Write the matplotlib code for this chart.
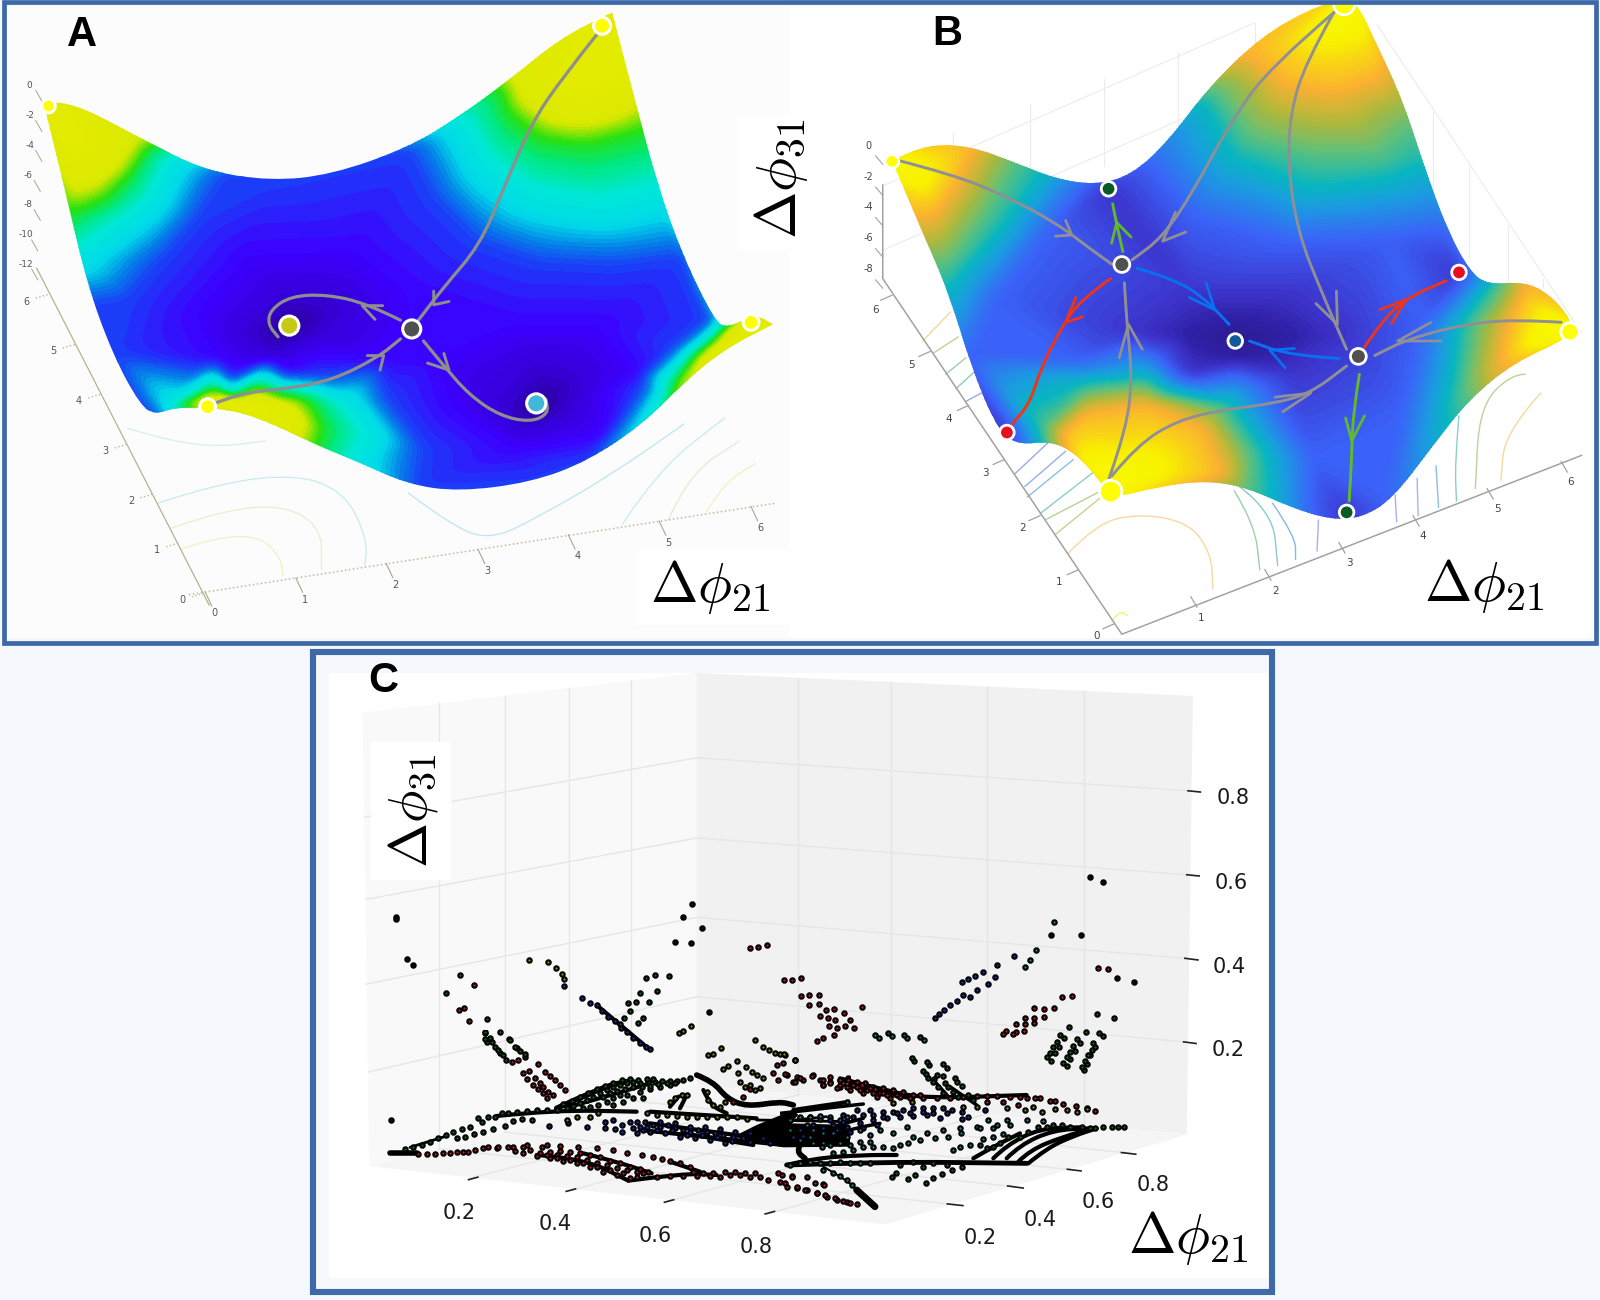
#!/usr/bin/env python3
# Three panels: two landscape surfaces (A, B) and a 3D-looking point cloud (C).
import numpy as np
import matplotlib
matplotlib.use('Agg')
import matplotlib.pyplot as plt
import matplotlib.tri as mtri
from matplotlib.colors import LinearSegmentedColormap
from matplotlib.patches import PathPatch, Polygon, Rectangle
from matplotlib.path import Path

plt.rcParams['font.family'] = ['DejaVu Sans']
plt.rcParams['mathtext.fontset'] = 'cm'

BLUE_EDGE = '#3e69a8'
PAGE = '#f5f8fd'

# ---------- panel A ----------
a_outline = [(85, 245), (85, 245), (150, 250), (280, 335), (400, 410), (530, 435), (650, 420), (800, 355), (900, 280),
             (1000, 190), (1100, 90), (1200, 30), (1200, 30), (1240, 220), (1290, 450), (1340, 620), (1400, 770),
             (1425, 790), (1480, 755), (1515, 780), (1515, 780), (1420, 840), (1340, 920), (1260, 1020), (1150, 1110),
             (1040, 1160), (900, 1182), (800, 1165), (700, 1110), (620, 1070), (500, 1000), (420, 980), (340, 980),
             (305, 997), (275, 975), (220, 850), (170, 680), (130, 470), (100, 320)]
a_levels = [
    (1.0, [(85, 245), (140, 330), (1180, 60), (1140, 200), (1210, 150), (410, 975), (480, 975), (540, 985), (1470, 775), (1515, 780), (1420, 830)]),
    (0.85, [(275, 335), (240, 400), (200, 440), (140, 470), (1000, 190), (1015, 240), (1070, 290), (1130, 305), (1200, 290),
            (1255, 255), (350, 975), (420, 945), (500, 940), (570, 965), (605, 1020), (590, 1060), (1420, 800), (1370, 860), (1335, 925)]),
    (0.72, [(290, 345), (250, 420), (200, 480), (140, 510), (985, 205), (1000, 270), (1060, 330), (1150, 345), (1260, 310),
            (600, 960), (630, 1030), (615, 1075), (1412, 795), (1360, 855), (1322, 930)]),
    (0.5, [(340, 380), (300, 480), (240, 540), (150, 620), (900, 290), (950, 400), (1050, 480), (1180, 505), (1300, 470),
           (340, 972), (440, 932), (560, 928), (680, 965), (730, 1040), (700, 1110), (1405, 790), (1350, 850), (1305, 940), (1265, 1020)]),
    (0.25, [(440, 420), (390, 520), (320, 620), (250, 720), (180, 730), (800, 360), (850, 480), (930, 580), (1050, 630),
            (1200, 640), (1340, 620), (280, 975), (450, 920), (620, 905), (760, 960), (830, 1080), (820, 1175), (1395, 770),
            (1320, 840), (1260, 930), (1150, 1110), (530, 435), (220, 850), (305, 997), (1040, 1160)]),
    (0.17, [(380, 750), (480, 610), (700, 600), (800, 700), (760, 860), (560, 895), (420, 860), (850, 860), (1000, 780),
            (1180, 780), (1250, 900), (1180, 1050), (1000, 1080), (880, 980), (807, 790)]),
    (0.08, [(490, 800), (560, 720), (650, 735), (620, 800), (530, 850), (990, 990), (1060, 890), (1130, 920), (1100, 1000), (1020, 1030)]),
    (0.0, [(565, 785), (1050, 970)]),
    # outside the surface, only there to close the triangulation
    (0.9, [(0, 0), (1568, 0), (1568, 780), (250, 1563)]),
    (0.25, [(0, 900), (1568, 1300), (900, 1563)]),
]

a_paths = [
    [(1175, 75), (1100, 190), (1040, 300), (985, 460), (940, 590), (870, 690), (820, 770)],
    [(785, 770), (720, 730), (640, 708), (570, 712), (530, 745), (525, 780), (545, 810)],
    [(410, 975), (470, 945), (560, 935), (650, 915), (740, 860), (785, 815)],
    [(830, 820), (870, 880), (920, 950), (980, 1000), (1040, 1015), (1075, 995), (1070, 960)],
]
a_barbs = [[(850, 733), (880, 725), (850, 700)], [(710, 735), (750, 735), (735, 768)],
           [(752, 855), (720, 855), (745, 890)], [(880, 890), (838, 873), (870, 850)]]
a_nodes_x = [95, 1180, 407, 1472, 807, 567, 1051]
a_nodes_y = [255, 62, 978, 775, 791, 783, 970]
a_nodes_c = ['#ffff00', '#ffff00', '#ffff00', '#ffff00', '#505050', '#c8c818', '#40b8d8']
a_nodes_s = [95, 150, 130, 130, 170, 190, 190]

a_z_labels = ['0', '-2', '-4', '-6', '-8', '-10', '-12']
a_z_x = [58, 58, 58, 55, 55, 50, 50]
a_z_y = [205, 278, 350, 422, 492, 565, 635]
a_y_labels = ['6', '5', '4', '3', '2', '1', '0']
a_y_x = [52, 105, 155, 207, 257, 308, 358]
a_y_y = [725, 845, 965, 1085, 1205, 1323, 1443]
a_x_labels = ['0', '1', '2', '3', '4', '5', '6']
a_x_x = [420, 598, 775, 955, 1132, 1310, 1490]
a_x_y = [1475, 1442, 1407, 1373, 1338, 1305, 1270]
a_contours = [
    ('#f0f0c4', [(355, 1320), (430, 1290), (510, 1290), (550, 1340), (555, 1385)]),
    ('#e2f2cc', [(335, 1270), (440, 1225), (560, 1215), (630, 1270), (630, 1370)]),
    ('#c4ecf2', [(310, 1210), (430, 1160), (590, 1140), (680, 1190), (720, 1300), (715, 1360)]),
    ('#bce6f2', [(800, 1185), (880, 1260), (960, 1300), (1060, 1240), (1200, 1140), (1340, 1020)]),
    ('#c4ecf2', [(1220, 1260), (1290, 1130), (1420, 1005)]),
    ('#dcf0d0', [(1310, 1250), (1350, 1140), (1450, 1060)]),
    ('#f0f0c4', [(1385, 1230), (1420, 1160), (1480, 1115)]),
    ('#d4eef4', [(250, 1030), (330, 1060), (430, 1075), (520, 1060)]),
]

# ---------- panel B ----------
b_outline = [(180, 385), (180, 385), (250, 348), (330, 350), (420, 390), (500, 430), (580, 445), (650, 420), (720, 340),
             (800, 210), (900, 90), (1000, 20), (1060, 0), (1090, 5), (1130, 110), (1180, 240), (1230, 430), (1270, 560),
             (1310, 650), (1345, 685), (1420, 677), (1470, 710), (1510, 770), (1510, 810), (1400, 870), (1310, 960),
             (1240, 1070), (1160, 1200), (1100, 1245), (1040, 1250), (960, 1220), (880, 1175), (800, 1155), (700, 1170),
             (610, 1200), (590, 1160), (540, 1090), (490, 1060), (430, 1070), (390, 1040), (340, 900), (290, 700), (240, 560)]
b_levels = [
    (1.0, [(180, 388), (230, 440), (1065, 5), (1040, 60), (1100, 40), (610, 1180), (680, 1130), (560, 1120), (1507, 800), (1470, 760), (1440, 830)]),
    (0.82, [(340, 350), (300, 450), (260, 520), (880, 130), (950, 200), (1050, 220), (1150, 180), (510, 1040), (560, 990),
            (680, 970), (790, 1030), (830, 1140), (1420, 690), (1390, 770), (1370, 880)]),
    (0.62, [(420, 385), (370, 500), (300, 620), (810, 210), (880, 330), (1000, 370), (1130, 370), (1200, 300), (480, 1030),
            (560, 940), (670, 925), (820, 980), (880, 1090), (880, 1170), (1370, 690), (1320, 780), (1300, 950)]),
    (0.52, [(470, 420), (400, 540), (300, 690), (790, 240), (850, 380), (1000, 450), (1150, 430), (1225, 390), (470, 1060),
            (550, 920), (680, 905), (840, 960), (920, 1190), (1345, 690), (1290, 780), (1260, 1020)]),
    (0.25, [(560, 440), (480, 560), (380, 720), (330, 860), (680, 390), (770, 520), (950, 580), (1150, 570), (1270, 550),
            (430, 1060), (540, 870), (700, 860), (900, 920), (1000, 1100), (1000, 1235), (1310, 650), (1220, 780), (1180, 1000), (1150, 1210)]),
    (0.14, [(640, 800), (760, 700), (960, 700), (1070, 800), (960, 900), (760, 900), (604, 450), (1290, 655), (405, 1040), (1070, 1235)]),
    (0.07, [(760, 810), (860, 770), (960, 810), (860, 860)]),
    (0.0, [(860, 812)]),
    (0.9, [(0, 300), (1100, -40), (1568, 800), (550, 1563)]),
    (0.25, [(0, 900), (1568, 1400), (1050, 1563)]),
]
b_paths = [
    ('#8f8f96', [(190, 385), (300, 420), (400, 470), (500, 535), (570, 600), (610, 635)]),
    ('#8f8f96', [(1050, 25), (920, 160), (840, 300), (770, 460), (710, 570), (650, 625)]),
    ('#8f8f96', [(1045, 30), (990, 150), (960, 270), (955, 400), (975, 560), (1020, 700), (1070, 840)]),
    ('#8f8f96', [(605, 1150), (640, 1030), (650, 900), (640, 780), (635, 680)]),
    ('#8f8f96', [(610, 1145), (660, 1070), (740, 1010), (830, 985), (930, 970), (1000, 945), (1070, 880)]),
    ('#8f8f96', [(1490, 775), (1400, 768), (1300, 780), (1190, 815), (1125, 855)]),
    ('#64b82c', [(632, 605), (620, 540), (612, 490)]),
    ('#64b82c', [(1095, 900), (1082, 1000), (1080, 1100), (1075, 1205)]),
    ('#f03418', [(608, 670), (550, 720), (510, 790), (470, 890), (450, 970), (415, 1020)]),
    ('#f03418', [(1105, 835), (1140, 770), (1190, 715), (1265, 675)]),
    ('#0a70f0', [(660, 645), (730, 670), (790, 715), (840, 780)]),
    ('#0a70f0', [(1055, 862), (960, 855), (880, 820)]),
]
b_barbs = [
    ('#8f8f96', [(532, 565), (500, 568), (520, 530)]),
    ('#8f8f96', [(710, 580), (755, 558), (735, 510)]),
    ('#8f8f96', [(1052, 780), (1010, 730), (1050, 700)]),
    ('#8f8f96', [(643, 780), (625, 860), (670, 840)]),
    ('#8f8f96', [(1000, 945), (930, 955), (945, 990)]),
    ('#8f8f96', [(1170, 820), (1235, 775), (1255, 820)]),
    ('#64b82c', [(620, 535), (610, 585), (648, 570)]),
    ('#64b82c', [(1080, 1060), (1068, 1005), (1105, 1000)]),
    ('#f03418', [(520, 775), (540, 715), (553, 762)]),
    ('#f03418', [(1187, 720), (1135, 745), (1158, 778)]),
    ('#0a70f0', [(812, 745), (795, 680), (762, 715)]),
    ('#0a70f0', [(920, 842), (968, 838), (950, 885)]),
]
b_nodes_x = [630, 1093, 1065, 180, 608, 1507, 604, 1070, 1290, 405, 852]
b_nodes_y = [636, 857, 10, 388, 1182, 798, 454, 1232, 655, 1040, 820]
b_nodes_c = ['#505050', '#505050', '#ffff00', '#ffff00', '#ffff00', '#ffff00', '#0a5a28', '#0a5a28', '#e81020', '#e81020', '#105a98']
b_nodes_s = [130, 130, 230, 95, 260, 170, 110, 110, 110, 110, 110]
b_z_labels = ['0', '-2', '-4', '-6', '-8']
b_z_y = [350, 425, 498, 573, 648]
b_y_x = [148, 218, 292, 363, 435, 507, 580]
b_y_y = [745, 877, 1008, 1138, 1270, 1400, 1530]
b_x_x = [785, 930, 1075, 1220, 1365, 1508]
b_x_y = [1487, 1420, 1355, 1290, 1225, 1160]
b_x_labels = ['1', '2', '3', '4', '5', '6']
b_ytick_x = [180, 255, 330, 400, 470, 545, 615]
b_ytick_y = [710, 845, 975, 1105, 1240, 1370, 1500]
b_xtick_x = [765, 910, 1055, 1200, 1345, 1490]
b_xtick_y = [1435, 1370, 1305, 1240, 1175, 1110]
b_contours = [
    ('#f6d8a0', [(525, 1330), (580, 1260), (660, 1235), (760, 1255), (805, 1330), (808, 1415)]),
    ('#c8d090', [(500, 1285), (590, 1195)]),
    ('#9cd0a8', [(850, 1180), (890, 1260), (900, 1370)]),
    ('#88cccc', [(860, 1170), (925, 1230), (935, 1360)]),
    ('#88b8e8', [(925, 1210), (970, 1290), (970, 1345)]),
    ('#a8b0ee', [(1015, 1250), (1012, 1325)]),
    ('#a8b0ee', [(1165, 1190), (1168, 1255)]),
    ('#a0b8ee', [(1208, 1150), (1210, 1240)]),
    ('#88c0e0', [(1245, 1120), (1250, 1220)]),
    ('#88d0c8', [(1290, 1000), (1282, 1110), (1285, 1205)]),
    ('#b8d498', [(1420, 900), (1390, 900), (1330, 980), (1322, 1175)]),
    ('#f6d8a0', [(1450, 945), (1380, 1040), (1372, 1155)]),
    ('#98a8e8', [(420, 1140), (485, 1065)]),
    ('#90b0e8', [(440, 1170), (520, 1085)]),
    ('#88c0e0', [(445, 1195), (535, 1105)]),
    ('#88d0c8', [(470, 1235), (580, 1130)]),
    ('#b0d498', [(480, 1250), (590, 1180)]),
    ('#f6d8a0', [(240, 820), (295, 750)]),
    ('#c8d090', [(260, 850), (310, 810)]),
    ('#a0d0a8', [(285, 900), (325, 860)]),
    ('#88cccc', [(305, 935), (345, 890)]),
    ('#98a8e8', [(325, 965), (355, 945)]),
    ('#f4f080', [(610, 1495), (625, 1468), (640, 1480)]),
]
b_grid = [
    [(165, 445), (890, 55)], [(165, 600), (890, 210)], [(300, 320), (300, 530)], [(450, 250), (450, 460)],
    [(595, 190), (595, 400)], [(740, 125), (740, 340)], [(890, 55), (890, 210)], [(1130, 60), (1530, 800)],
    [(1240, 270), (1240, 480)], [(1310, 400), (1310, 620)], [(1385, 540), (1385, 680)], [(1455, 670), (1455, 690)],
]

# ---------- panel C (crop of the whole panel) ----------
c_left_wall = [(85, 150), (622, 55), (622, 1040), (95, 1235)]
c_right_wall = [(622, 55), (1420, 110), (1410, 1160), (622, 1040)]
c_floor = [(95, 1235), (622, 1040), (1410, 1160), (925, 1375)]
c_grid = [
    [(785, 66), (785, 1065)], [(935, 77), (935, 1088)], [(1088, 87), (1088, 1111)], [(1245, 98), (1245, 1135)],
    [(207, 128), (207, 1194)], [(313, 110), (313, 1154)], [(417, 92), (417, 1116)], [(517, 73), (517, 1079)],
    [(622, 258), (1412, 337)], [(622, 450), (1410, 538)], [(622, 640), (1407, 738)], [(622, 830), (1405, 938)],
    [(622, 258), (88, 400)], [(622, 450), (90, 597)], [(622, 640), (90, 800)], [(622, 830), (95, 1010)],
    [(255, 1265), (785, 1065)], [(415, 1295), (935, 1088)], [(575, 1320), (1088, 1111)], [(735, 1350), (1245, 1135)],
    [(1040, 1328), (207, 1194)], [(1135, 1285), (313, 1154)], [(1230, 1245), (417, 1116)], [(1320, 1205), (517, 1079)],
]
c_ticks = [
    [(1412, 337), (1432, 340)], [(1410, 538), (1430, 541)], [(1407, 738), (1428, 742)], [(1405, 938), (1425, 942)],
    [(255, 1268), (270, 1262)], [(412, 1296), (427, 1290)], [(570, 1322), (585, 1316)], [(732, 1350), (747, 1344)],
    [(1025, 1326), (1050, 1330)], [(1122, 1283), (1147, 1288)], [(1218, 1243), (1240, 1247)], [(1305, 1203), (1328, 1207)],
]
c_tick_labels = ['0.8', '0.6', '0.4', '0.2', '0.2', '0.4', '0.6', '0.8', '0.2', '0.4', '0.6', '0.8']
c_tick_x = [1484, 1481, 1478, 1476, 240, 395, 555, 717, 1078, 1174, 1267, 1356]
c_tick_y = [355, 557, 760, 958, 1347, 1375, 1403, 1430, 1408, 1365, 1322, 1280]

c_black = [(138, 640), (138, 643), (156, 740), (166, 753), (131, 1125), (615, 607), (600, 640), (630, 665), (587, 700),
           (612, 702), (642, 866), (1298, 785), (1325, 795), (1255, 543), (1275, 556), (1192, 683), (1240, 683)]
c_green = [(242, 777), (218, 822), (285, 884), (281, 917), (305, 915), (285, 938), (293, 938), (320, 932), (298, 950),
           (306, 965), (315, 982), (333, 953), (345, 975), (512, 845), (525, 842), (540, 785), (555, 778), (577, 780),
           (530, 820), (558, 817), (545, 842), (515, 865), (505, 880), (535, 880), (528, 892), (498, 895), (972, 985),
           (995, 993), (1024, 1000), (990, 1015), (1003, 1028), (1018, 1020), (1040, 1035), (1265, 872), (1293, 880),
           (1220, 903), (1248, 915), (1275, 923), (1213, 930), (1205, 950), (1198, 965), (1192, 985), (1238, 940),
           (1230, 960), (1222, 980), (1218, 997), (1262, 950), (1255, 970), (1250, 990), (1245, 1005)]
c_red = [(263, 802), (240, 862), (247, 858), (255, 888), (707, 714), (720, 710), (735, 705), (763, 790), (775, 790),
         (790, 786), (790, 828), (803, 826), (818, 825), (803, 850), (818, 848), (830, 862), (843, 860), (820, 875),
         (833, 880), (845, 885), (858, 870), (868, 885), (875, 905), (860, 900), (848, 905), (835, 900), (815, 935),
         (825, 930), (843, 922), (888, 855), (1268, 762), (1283, 764), (1210, 830), (1225, 828), (1165, 857), (1180, 860),
         (1197, 858), (1150, 880), (1165, 880), (1180, 878), (1135, 895), (1150, 895), (1165, 893), (1120, 912),
         (1135, 915), (1148, 912), (1115, 920), (1130, 920)]
c_blue = [(437, 832), (450, 845), (462, 850), (470, 865), (480, 878), (490, 888), (500, 905), (510, 915), (520, 928),
          (530, 940), (540, 950), (546, 955), (408, 805), (1005, 880), (1012, 872), (1020, 862), (1030, 850), (1040, 840),
          (1050, 825), (1048, 795), (1058, 788), (1070, 780), (1082, 772), (1062, 830), (1072, 815), (1090, 800),
          (1102, 782), (1105, 755), (1132, 732)]
c_yellow = [(352, 742), (382, 746), (395, 762), (405, 775), (408, 788), (612, 900), (593, 917), (600, 912)]
c_cyan = [(915, 930), (936, 925), (960, 930), (987, 933), (1150, 760), (1158, 742), (1168, 718), (1197, 652)]

# floor of panel C, left half, crop z4
z4_lines = [
    (4, [(120, 368), (200, 368)]), (3, [(440, 258), (615, 240), (860, 245)]), (4, [(620, 235), (760, 170), (830, 155)]),
    (3, [(660, 230), (800, 190), (900, 160)]), (4, [(1040, 135), (1090, 155), (1130, 205), (1190, 230), (1290, 215), (1330, 225)]),
    (3, [(1060, 180), (1080, 225), (1130, 250)]), (3, [(960, 230), (985, 200)]), (3, [(990, 235), (1010, 195)]),
    (3, [(900, 245), (1220, 265)]), (3, [(560, 375), (700, 385), (835, 452)]), (3, [(700, 370), (800, 395), (905, 430)]),
    (3, [(835, 452), (1000, 430), (1100, 435)]), (3, [(960, 395), (1050, 425)]), (3, [(870, 300), (1300, 345)]),
    (3, [(900, 280), (1230, 325)]), (3, [(1000, 310), (1210, 345)]),
    (3, [(1330, 240), (1500, 215)]), (2, [(1220, 270), (1500, 275)]), (2, [(180, 352), (290, 318)]),
]
z4_blob = [(1150, 320), (1220, 285), (1330, 240), (1345, 255), (1320, 280), (1500, 285), (1500, 350), (1300, 352)]
z4_green = [(1020, 145), (1000, 150), (980, 152), (960, 152), (935, 152), (915, 155), (895, 155), (870, 158), (850, 155),
            (830, 158), (810, 165), (790, 172), (770, 180), (750, 190), (730, 200), (710, 210), (690, 220), (670, 228),
            (650, 235), (960, 165), (930, 172), (900, 178), (870, 185), (850, 205), (830, 195), (810, 195), (790, 205),
            (770, 215), (745, 225), (720, 232), (700, 235), (880, 205), (820, 215), (790, 225), (620, 240), (590, 240),
            (560, 240), (530, 242), (500, 245), (475, 248), (455, 250), (435, 262), (415, 262), (385, 265), (395, 275),
            (360, 292), (335, 298), (310, 305), (288, 315), (265, 325), (240, 335), (215, 345), (190, 352), (165, 358),
            (545, 270), (515, 268), (490, 272), (465, 288), (430, 298), (400, 305), (372, 312), (345, 320), (320, 325),
            (405, 5), (405, 28), (420, 25), (445, 60), (460, 75), (480, 30), (495, 50), (510, 62), (525, 72),
            (640, 222), (665, 212), (690, 200), (715, 190), (740, 178), (765, 168), (790, 160), (815, 150), (840, 148),
            (865, 150), (890, 148), (910, 148), (760, 200), (780, 190), (800, 183), (825, 178), (850, 172), (875, 170),
            (900, 168), (925, 162), (950, 160), (975, 160)]
z4_red = [(205, 373), (230, 372), (255, 371), (280, 370), (300, 368), (320, 365), (340, 365), (355, 365), (375, 360), (400, 355),
          (415, 352), (440, 355), (445, 350), (475, 350), (490, 350), (495, 362), (520, 350), (530, 345), (520, 370), (540, 360),
          (575, 350), (590, 345), (630, 348), (685, 350), (740, 355), (790, 360), (830, 368), (875, 375), (910, 382), (935, 388),
          (960, 393), (990, 400), (1020, 410), (560, 378), (590, 375), (620, 375), (650, 378), (680, 380), (710, 390), (740, 398),
          (770, 405), (800, 415), (830, 420), (860, 425), (880, 430), (600, 385), (640, 392), (680, 400), (720, 412), (760, 425),
          (800, 435), (840, 445), (920, 440), (960, 437), (1000, 437), (1040, 437), (1080, 437), (1110, 440), (1140, 435),
          (1170, 435), (1200, 440), (1230, 440), (1255, 450), (1290, 455), (1310, 470), (1340, 475), (1370, 480), (1400, 490),
          (1430, 500), (1460, 510), (1490, 515), (1285, 430), (1325, 438), (1370, 440), (1420, 462), (485, 97), (505, 90),
          (518, 128), (537, 122), (565, 103), (532, 148), (555, 145), (570, 158), (585, 125), (600, 138), (615, 150), (630, 165),
          (645, 180), (550, 165), (565, 178), (578, 190), (592, 205), (580, 172), (595, 185), (610, 195), (1280, 105), (1300, 100),
          (1335, 90), (1270, 130), (1285, 150), (1310, 135), (1340, 140), (1360, 150), (1390, 135), (1410, 150), (1440, 155),
          (1470, 150), (1495, 145), (1330, 155), (1420, 165), (1470, 170), (1150, 215), (1180, 200), (1200, 178),
          (570, 368), (600, 365), (630, 362), (660, 365), (690, 368), (720, 375), (750, 382), (780, 392), (810, 400), (840, 410),
          (870, 418), (895, 425), (620, 385), (660, 390), (700, 398), (740, 410), (780, 420), (820, 430), (860, 440), (1030, 427),
          (1060, 430), (1090, 430), (1125, 425), (1155, 425), (1185, 430), (1215, 430)]
z4_blue = [(597, 287), (655, 280), (712, 290), (765, 275), (765, 295), (790, 270), (795, 298), (815, 285), (815, 305), (840, 275),
           (860, 275), (850, 295), (870, 290), (890, 290), (910, 285), (930, 290), (955, 285), (975, 295), (1000, 300), (1020, 305),
           (1045, 300), (1070, 305), (1095, 310), (1120, 315), (1150, 320), (1180, 325), (860, 310), (900, 305), (945, 310),
           (990, 320), (1035, 325), (1080, 330), (1125, 338), (880, 300), (920, 300), (965, 300), (1010, 315), (1055, 315), (1100, 322),
           (1145, 332), (885, 275), (930, 275), (975, 280), (1020, 290), (1065, 290), (1110, 298), (1155, 305), (1200, 310),
           (1240, 325), (1200, 335), (1260, 340)]
z4_yellow = [(650, 270), (680, 262), (720, 262), (745, 250), (890, 250), (920, 255), (950, 255), (980, 258), (1010, 262), (1040, 262),
             (1070, 262), (1100, 262), (1130, 262), (1160, 262), (1190, 268), (1075, 75), (1090, 72), (1112, 55), (1160, 92),
             (1120, 118), (1135, 108), (1163, 130), (1188, 112), (1205, 125), (1220, 135), (1240, 145), (1170, 155), (1185, 170),
             (1200, 165), (1215, 180), (1230, 175), (1215, 30), (1240, 50), (1258, 60), (1275, 68), (1290, 72), (1305, 75),
             (1070, 185), (1075, 210), (1090, 225), (1110, 230), (1125, 215), (960, 215), (975, 205), (995, 195), (1010, 195)]
z4_cyan = [(1320, 270), (1350, 265), (1380, 262), (1410, 268), (1440, 262), (1470, 270), (1490, 262)]

# floor of panel C, right half, crop z5
z5_lines = [
    (2.5, [(0, 250), (250, 222)]), (2, [(0, 275), (140, 260)]), (4, [(60, 345), (50, 365), (75, 385)]),
    (3, [(20, 405), (100, 385), (250, 375), (350, 375)]), (3.5, [(20, 405), (300, 395), (740, 400)]),
    (1.5, [(130, 410), (200, 450), (230, 480)]), (5, [(230, 480), (285, 530)]),
    (3, [(640, 385), (680, 345), (780, 295), (900, 292)]), (3, [(680, 385), (720, 345), (820, 300), (930, 295)]),
    (3, [(715, 395), (750, 360), (850, 320), (940, 295)]), (3, [(745, 400), (800, 355), (880, 318), (950, 295)]),
    (3, [(580, 385), (640, 350), (720, 310)]), (2.5, [(460, 150), (510, 205)]), (2.5, [(510, 170), (590, 225)]),
    (3, [(180, 145), (330, 185), (440, 205), (740, 195)]), (3, [(210, 165), (300, 190), (400, 205)]),
    (2.5, [(0, 325), (120, 300), (250, 265)]), (2.5, [(60, 345), (200, 300), (300, 280)]),
]
z5_blob = [(0, 290), (50, 295), (60, 340), (0, 350)]
z5_red = [(15, 133), (45, 155), (60, 145), (95, 137), (130, 150), (150, 140), (180, 150), (205, 150), (230, 155), (255, 160),
          (280, 170), (310, 175), (340, 180), (370, 185), (400, 195), (430, 205), (130, 165), (170, 175), (210, 180), (250, 190),
          (290, 200), (330, 205), (180, 165), (220, 165), (260, 180), (300, 190), (470, 205), (510, 205), (550, 200), (590, 198),
          (620, 198), (650, 198), (690, 200), (720, 200), (740, 205), (765, 205), (780, 205), (810, 212), (825, 212), (850, 222),
          (888, 228), (920, 235), (945, 242), (620, 215), (670, 215), (715, 225), (5, 435), (35, 440), (15, 460), (50, 470),
          (75, 480), (105, 458), (132, 465), (110, 490), (135, 495), (165, 505), (190, 512), (210, 518), (232, 522),
          (150, 160), (190, 160), (230, 170), (270, 175), (310, 190), (350, 195), (390, 205), (420, 195), (200, 170), (240, 180),
          (280, 190), (320, 195), (360, 200), (245, 165), (285, 178)]
z5_blue = [(40, 322), (70, 318), (100, 305), (130, 295), (160, 285), (190, 275), (220, 262), (250, 255), (280, 255), (310, 245),
           (340, 245), (370, 240), (400, 235), (430, 235), (460, 235), (490, 235), (515, 240), (545, 245), (565, 260), (615, 240),
           (200, 290), (240, 280), (280, 270), (320, 265), (360, 262), (400, 258), (440, 255), (480, 265), (545, 268), (500, 250),
           (60, 300), (100, 285), (150, 270), (190, 255), (230, 240), (270, 240), (310, 260), (350, 250), (390, 250), (430, 245),
           (460, 250), (130, 310), (170, 300), (210, 305), (250, 295), (290, 285)]
z5_cyan = [(30, 405), (60, 400), (90, 395), (120, 400), (150, 400), (180, 395), (210, 400), (240, 400), (270, 400), (130, 420),
           (160, 430), (180, 438), (200, 450), (215, 465), (30, 270), (60, 262), (90, 260), (120, 258), (30, 300), (90, 320),
           (130, 340), (160, 370), (190, 365), (220, 360), (250, 352), (280, 350), (310, 352), (340, 355), (360, 345), (385, 340),
           (400, 320), (420, 330), (440, 310), (465, 325), (490, 300), (505, 320), (540, 295), (542, 310), (590, 290), (600, 295),
           (625, 270), (640, 295), (650, 285), (680, 270), (690, 285), (740, 270), (790, 272), (540, 350), (570, 345), (520, 360),
           (610, 328), (640, 320), (670, 312), (200, 215), (285, 15), (100, 340), (125, 350), (150, 345), (180, 340), (210, 345),
           (240, 335), (270, 335), (100, 300), (130, 310), (160, 310), (200, 320), (240, 300), (270, 315), (300, 300), (340, 310),
           (380, 290), (60, 330), (80, 285)]
z5_green = [(395, 85), (440, 97), (490, 103), (428, 122), (470, 135), (445, 145), (495, 158), (525, 143), (545, 167), (460, 155),
            (475, 172), (490, 190), (505, 170), (520, 185), (535, 200), (565, 195), (580, 210), (800, 82), (810, 68), (818, 50),
            (830, 35), (840, 15), (850, 100), (860, 82), (870, 65), (880, 48), (890, 28), (905, 110), (915, 92), (925, 75), (935, 60),
            (940, 40), (958, 8), (325, 10), (372, 15), (420, 20), (348, 430), (335, 440), (385, 448), (405, 435), (437, 458), (460, 445),
            (485, 433), (515, 420), (360, 405), (400, 395), (430, 410), (460, 400), (500, 405), (545, 410), (600, 345), (620, 355),
            (640, 350), (660, 340), (685, 322), (720, 320), (745, 305), (775, 290), (800, 290), (820, 285), (845, 285), (870, 290),
            (905, 290), (930, 295), (945, 295), (970, 292), (995, 292), (1015, 292), (1032, 292)]
z5_yellow = [(340, 218), (395, 215), (550, 230), (590, 230), (680, 235), (735, 240), (760, 232), (785, 245), (825, 238), (860, 240),
             (890, 245), (920, 238), (45, 90), (12, 72)]

# colour ramps of the two surfaces
a_cmap = LinearSegmentedColormap.from_list('a_ramp', [
    (0.0, '#2a0090'), (0.09, '#3600d8'), (0.17, '#3c00ff'), (0.25, '#1c3cf8'), (0.33, '#0480e8'), (0.42, '#00d8e8'), (0.54, '#00e8d8'),
    (0.64, '#00e880'), (0.73, '#28e010'), (0.85, '#dae800'), (1.0, '#e4ec00')])
b_cmap = LinearSegmentedColormap.from_list('b_ramp', [
    (0.0, '#2a1a88'), (0.08, '#3020a8'), (0.14, '#3c34cc'), (0.25, '#3a62f8'), (0.42, '#1a9ce0'), (0.52, '#08b6c0'),
    (0.62, '#58c080'), (0.72, '#aeb83c'), (0.82, '#fab030'), (0.95, '#f8f000'), (1.0, '#f8f800')])


def smooth(pts, closed=False):
    # quadratic curve through the midpoints, repeated points stay as corners
    pts = list(pts)
    if closed:
        pts = pts + pts[:1]
    verts = [pts[0]]
    codes = [Path.MOVETO]
    for i in range(1, len(pts) - 1):
        mid = ((pts[i][0] + pts[i + 1][0]) / 2, (pts[i][1] + pts[i + 1][1]) / 2)
        verts += [pts[i], mid]
        codes += [Path.CURVE3, Path.CURVE3]
    verts.append(pts[-1])
    codes.append(Path.LINETO)
    return Path(verts, codes)


def crop_axes(x, y, w, h, xmax, ymax, zorder=1):
    # axes over a crop of the picture, its scale is the scale the values were read in
    ax = fig.add_axes([x / 1600, 1 - (y + h) / 1300, w / 1600, h / 1300], zorder=zorder)
    ax.set_xlim(0, xmax)
    ax.set_ylim(ymax, 0)
    ax.axis('off')
    ax.patch.set_alpha(0)
    return ax


def blur(z, sigma):
    # plain gaussian blur so the triangle facets do not show
    r = int(3 * sigma)
    k = np.exp(-0.5 * (np.arange(-r, r + 1) / sigma) ** 2)
    k /= k.sum()
    z = np.pad(z, r, mode='edge')
    z = np.apply_along_axis(lambda m: np.convolve(m, k, mode='same'), 0, z)
    z = np.apply_along_axis(lambda m: np.convolve(m, k, mode='same'), 1, z)
    return z[r:-r, r:-r]


def surface(ax, outline, levels, cmap, n, zorder=3):
    xs, ys, vs = [], [], []
    seen = set()
    for v, pts in levels:
        for p in pts:
            if p not in seen:
                seen.add(p)
                xs.append(p[0])
                ys.append(p[1])
                vs.append(v)
    tri = mtri.Triangulation(np.array(xs, float), np.array(ys, float))
    interp = mtri.LinearTriInterpolator(tri, np.array(vs, float))
    gx, gy = np.meshgrid(np.arange(0, 1570, 4.0), np.arange(0, 1566, 4.0))
    gz = np.ma.filled(interp(gx, gy), 0.5)
    gz = blur(gz, 3.5)
    cs = ax.contourf(gx, gy, gz, levels=np.linspace(0, 1, n), cmap=cmap, extend='both', zorder=zorder)
    patch = PathPatch(smooth(outline, closed=True), transform=ax.transData, fc='none', ec='none')
    ax.add_patch(patch)
    cs.set_clip_path(patch)


def draw_line(ax, pts, color, lw, zorder=5, **kw):
    ax.add_patch(PathPatch(smooth(pts), fc='none', ec=color, lw=lw, zorder=zorder, capstyle='round', **kw))


def barb(ax, tri3, color, lw, zorder=5):
    tip, b1, b2 = tri3
    ax.plot([b1[0], tip[0], b2[0]], [b1[1], tip[1], b2[1]], color=color, lw=lw, zorder=zorder,
            solid_capstyle='round', solid_joinstyle='round')


def dots(ax, pts, color, zorder=6, size=10):
    ax.scatter([p[0] for p in pts], [p[1] for p in pts], s=size, c=color, edgecolors='black', linewidths=1.5, zorder=zorder)


fig = plt.figure(figsize=(16, 13), dpi=100, facecolor=PAGE)

# page and panel backgrounds, in picture pixels
base = crop_axes(0, 0, 1600, 1300, 1600, 1300, zorder=0)
base.add_patch(Rectangle((6, 6), 800, 632, fc='#fcfcfc', ec='none'))
base.add_patch(Rectangle((790, 6), 804, 632, fc='white', ec='none'))
base.add_patch(Rectangle((737, 115), 74, 135, fc='white', ec='none'))
base.add_patch(Rectangle((635, 550), 155, 75, fc='white', ec='none'))
base.add_patch(Rectangle((329, 673), 945, 605, fc='white', ec='none'))

frame = crop_axes(0, 0, 1600, 1300, 1600, 1300, zorder=9)
frame.add_patch(Rectangle((3.5, 2), 1592, 641, fc='none', ec=BLUE_EDGE, lw=3.4))
frame.add_patch(Rectangle((313, 652), 959, 640, fc='none', ec=BLUE_EDGE, lw=4.4))

# ---------- A ----------
ax_a = crop_axes(0, 0, 800, 650, 1568, 1563)
for col, pts in a_contours:
    draw_line(ax_a, pts, col, 0.9, zorder=1)
surface(ax_a, a_outline, a_levels, a_cmap, 55)
ax_a.plot([72, 410], [645, 1455], color='#b8b090', lw=0.9, zorder=2)
ax_a.plot([370, 1520], [1430, 1210], color='#c0b890', lw=1.1, ls=':', zorder=2)
for x, y, t in zip(a_z_x, a_z_y, a_z_labels):
    ax_a.text(x, y, t, fontsize=6.5, color='#555555', ha='center', va='center')
    ax_a.plot([x + 12, x + 24], [y + 12, y + 38], color='#aaa68c', lw=0.7, zorder=2)
for x, y, t in zip(a_y_x, a_y_y, a_y_labels):
    ax_a.text(x, y, t, fontsize=7, color='#555555', ha='center', va='center')
    ax_a.plot([x + 18, x + 45], [y - 8, y - 18], color='#c0b890', lw=1, ls=':', zorder=2)
for x, y, t in zip(a_x_x, a_x_y, a_x_labels):
    ax_a.text(x, y, t, fontsize=7, color='#555555', ha='center', va='center')
    ax_a.plot([x - 18, x - 5], [y - 52, y - 18], color='#aaa68c', lw=0.8, zorder=2)
for pts in a_paths:
    draw_line(ax_a, pts, '#8e8e8e', 2.3)
for tri3 in a_barbs:
    barb(ax_a, tri3, '#8e8e8e', 2.1)
ax_a.scatter(a_nodes_x, a_nodes_y, s=a_nodes_s, c=a_nodes_c, edgecolors='white', linewidths=2.2, zorder=7)
ax_a.text(160, 85, 'A', fontsize=30, fontweight='bold', family='Liberation Sans', ha='center', va='center')
ax_a.text(1392, 1412, r'$\Delta\phi_{21}$', fontsize=41, ha='center', va='center', color='black')
ax_a.text(1530, 430, r'$\Delta\phi_{31}$', fontsize=41, rotation=90, ha='center', va='center', color='black', zorder=8)

# ---------- B ----------
ax_b = crop_axes(800, 0, 800, 650, 1566, 1563)
for p0, p1 in b_grid:
    ax_b.plot([p0[0], p1[0]], [p0[1], p1[1]], color='#ececec', lw=0.8, zorder=1)
for col, pts in b_contours:
    draw_line(ax_b, pts, col, 1.0, zorder=1)
surface(ax_b, b_outline, b_levels, b_cmap, 90)
ax_b.plot([162, 162, 630, 1530], [445, 670, 1525, 1095], color='#a2a2a2', lw=1.1, zorder=2)
for y, t in zip(b_z_y, b_z_labels):
    ax_b.text(133, y, t, fontsize=7, color='#444444', ha='center', va='center')
    ax_b.plot([148, 162], [y + 25, y + 45], color='#a2a2a2', lw=0.8, zorder=2)
for x, y, t in zip(b_y_x, b_y_y, ['6', '5', '4', '3', '2', '1', '0']):
    ax_b.text(x, y, t, fontsize=7.5, color='#444444', ha='center', va='center')
for x, y in zip(b_ytick_x, b_ytick_y):
    ax_b.plot([x, x - 22], [y, y + 12], color='#a2a2a2', lw=0.9, zorder=2)
for x, y, t in zip(b_x_x, b_x_y, b_x_labels):
    ax_b.text(x, y, t, fontsize=7.5, color='#444444', ha='center', va='center')
for x, y in zip(b_xtick_x, b_xtick_y):
    ax_b.plot([x, x + 12], [y, y + 25], color='#a2a2a2', lw=0.9, zorder=2)
for col, pts in b_paths:
    draw_line(ax_b, pts, col, 2.1)
for col, tri3 in b_barbs:
    barb(ax_b, tri3, col, 2.0)
ax_b.scatter(b_nodes_x, b_nodes_y, s=b_nodes_s, c=b_nodes_c, edgecolors='white', linewidths=2.0, zorder=7)
ax_b.text(288, 82, 'B', fontsize=30, fontweight='bold', family='Liberation Sans', ha='center', va='center')
ax_b.text(1340, 1410, r'$\Delta\phi_{21}$', fontsize=41, ha='center', va='center', color='black')

# ---------- C ----------
ax_c = crop_axes(310, 650, 970, 650, 1560, 1556)
ax_c.add_patch(Polygon(c_left_wall, fc='#f9f9f9', ec='none', zorder=1))
ax_c.add_patch(Polygon(c_right_wall, fc='#f1f1f1', ec='none', zorder=1))
ax_c.add_patch(Polygon(c_floor, fc='#f5f5f5', ec='none', zorder=1))
for p0, p1 in c_grid:
    ax_c.plot([p0[0], p1[0]], [p0[1], p1[1]], color='#e6e6e6', lw=1.0, zorder=2)
for p0, p1 in c_ticks:
    ax_c.plot([p0[0], p1[0]], [p0[1], p1[1]], color='#222222', lw=1.2, zorder=3)
for x, y, t in zip(c_tick_x, c_tick_y, c_tick_labels):
    ax_c.text(x, y, t, fontsize=15, color='#1a1a1a', ha='center', va='center')
ax_c.add_patch(Rectangle((98, 220), 128, 330, fc='white', ec='none', zorder=3))
ax_c.plot([465, 545], [855, 955], color='black', lw=3, zorder=5, solid_capstyle='round')
for pts, col in [(c_black, '#101010'), (c_green, '#0a6a0a'), (c_red, '#c81818'), (c_blue, '#1030c0'),
                 (c_yellow, '#8c8c00'), (c_cyan, '#108c8c')]:
    dots(ax_c, pts, col)
ax_c.text(118, 75, 'C', fontsize=30, fontweight='bold', family='Liberation Sans', ha='center', va='center', zorder=8)
ax_c.text(1412, 1408, r'$\Delta\phi_{21}$', fontsize=41, ha='center', va='center', color='black', zorder=8)
ax_c.text(165, 385, r'$\Delta\phi_{31}$', fontsize=39, rotation=90, ha='center', va='center', color='black', zorder=8)

ax_z4 = crop_axes(350, 1030, 500, 220, 1500, 660, zorder=2)
for lw, pts in z4_lines:
    draw_line(ax_z4, pts, 'black', lw, zorder=5)
ax_z4.add_patch(Polygon(z4_blob, fc='black', ec='none', zorder=5))
for pts, col in [(z4_green, '#0a6a0a'), (z4_red, '#c81818'), (z4_blue, '#1030c0'), (z4_yellow, '#8c8c00'), (z4_cyan, '#108c8c')]:
    dots(ax_z4, pts, col)

ax_z5 = crop_axes(780, 1030, 400, 220, 1200, 660, zorder=2)
for lw, pts in z5_lines:
    draw_line(ax_z5, pts, 'black', lw, zorder=5)
ax_z5.add_patch(Polygon(z5_blob, fc='black', ec='none', zorder=5))
for pts, col in [(z5_red, '#c81818'), (z5_blue, '#1030c0'), (z5_cyan, '#108c8c'), (z5_green, '#0a6a0a'), (z5_yellow, '#8c8c00')]:
    dots(ax_z5, pts, col)

plt.savefig('out.png', dpi=100, facecolor=fig.get_facecolor())
print("Saved: out.png")
